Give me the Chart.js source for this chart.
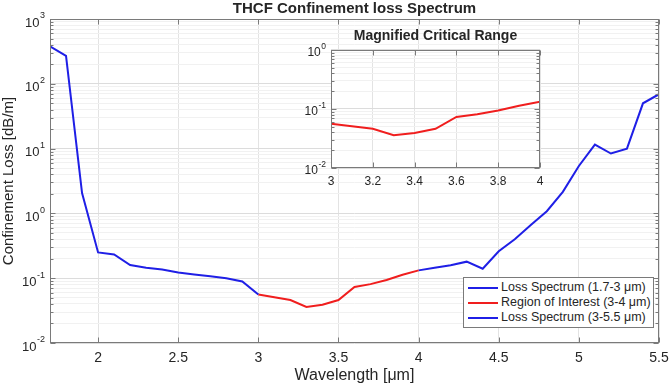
<!DOCTYPE html>
<html lang="en">
<head>
  <meta charset="UTF-8">
  <title>THCF Confinement loss Spectrum</title>
  <style>
    body { margin: 0; background: #fff; font-family: 'Liberation Sans', Arial, sans-serif; }
    #wrap { position: relative; width: 669px; height: 385px; }
    #mainChart { position: absolute; left: 0; top: 0; }
    #insetChart { position: absolute; left: 280px; top: 25px; }
    #legend { position: absolute; left: 463px; top: 277px; width: 189px; height: 49px;
              border: 1px solid #7a7a7a; background: #fff; font-size: 12.5px; color: #262626; }
    #legend .row { position: absolute; left: 0; height: 15px; line-height: 15px; white-space: nowrap; }
    #legend .sw { position: absolute; left: 4px; top: 7px; width: 30px; height: 2px; }
    #legend .tx { position: absolute; left: 37px; top: 0; }
  </style>
  <script src="https://cdn.jsdelivr.net/npm/chart.js"></script>
</head>
<body>
<div id="wrap">
  <canvas id="mainChart" width="669" height="385"></canvas>
  <canvas id="insetChart" width="270" height="165"></canvas>
  <div id="legend"></div>
</div>

<script>
// wavelength grid (um), 0.1 steps
const wavelength = [1.7, 1.8, 1.9, 2.0, 2.1, 2.2, 2.3, 2.4, 2.5, 2.6, 2.7, 2.8, 2.9, 3.0,
                    3.1, 3.2, 3.3, 3.4, 3.5, 3.6, 3.7, 3.8, 3.9, 4.0,
                    4.1, 4.2, 4.3, 4.4, 4.5, 4.6, 4.7, 4.8, 4.9, 5.0, 5.1, 5.2, 5.3, 5.4, 5.5];
// loss values (dB/m)
const lossLow  = [378, 270, 2.06, 0.25, 0.232, 0.16, 0.145, 0.136, 0.122, 0.114, 0.107, 0.1, 0.089, 0.056];
const lossROI  = [0.056, 0.051, 0.046, 0.036, 0.039, 0.046, 0.073, 0.081, 0.094, 0.113, 0.132];
const lossHigh = [0.132, 0.145, 0.158, 0.18, 0.14, 0.26, 0.4, 0.66, 1.08, 2.15, 5.4, 11.5, 8.4, 10, 50, 69];

const seriesLabels = ['Loss Spectrum (1.7-3 μm)', 'Region of Interest (3-4 μm)', 'Loss Spectrum (3-5.5 μm)'];
const seriesColors = ['#1f1fe6', '#f01e1e', '#1f1fe6'];

const mainXTicks = [2, 2.5, 3, 3.5, 4, 4.5, 5, 5.5];
const mainYDecades = [0.01, 0.1, 1, 10, 100, 1000];
const insetXTicks = [3, 3.2, 3.4, 3.6, 3.8, 4];
const insetYDecades = [0.01, 0.1, 1];
const minorSteps = [2, 3, 4, 5, 6, 7, 8, 9];

const FONT = "'Liberation Sans', Arial, sans-serif";
const TXT = '#262626';

function pts(xs, ys, from) {
  return ys.map((v, i) => ({ x: xs[from + i], y: v }));
}
const iStart = wavelength.indexOf(3.0);
const iROI = wavelength.indexOf(4.0);

function logTicks(decades) {
  const t = [];
  decades.forEach((d, k) => {
    t.push({ value: d, major: true });
    if (k < decades.length - 1) minorSteps.forEach(m => t.push({ value: +(d * m).toPrecision(3), major: false }));
  });
  return t;
}
function isDecade(v) { return Math.abs(Math.log10(v) - Math.round(Math.log10(v))) < 1e-9; }

// white plot area, box, inward ticks and 10^n labels (MATLAB look)
const boxPlugin = {
  id: 'box',
  beforeDraw(chart, args, opts) {
    if (!opts.fill) return;
    const a = chart.chartArea, c = chart.ctx;
    c.save(); c.fillStyle = '#fff'; c.fillRect(a.left, a.top, a.right - a.left, a.bottom - a.top); c.restore();
  },
  afterDraw(chart, args, opts) {
    const a = chart.chartArea, c = chart.ctx;
    const xs = chart.scales.x, ys = chart.scales.y;
    c.save();
    c.strokeStyle = '#7a7a7a'; c.lineWidth = 1;
    const L = Math.round(a.left) + 0.5, R = Math.round(a.right) - 0.5;
    const T = Math.round(a.top) + 0.5, B = Math.round(a.bottom) - 0.5;
    c.strokeRect(L, T, R - L, B - T);
    c.beginPath();
    xs.ticks.forEach(t => {
      const px = Math.round(xs.getPixelForValue(t.value)) + 0.5;
      c.moveTo(px, B); c.lineTo(px, B - 5);
      c.moveTo(px, T); c.lineTo(px, T + 5);
    });
    ys.ticks.forEach(t => {
      const py = Math.round(ys.getPixelForValue(t.value)) + 0.5;
      const len = isDecade(t.value) ? 5 : 3;
      c.moveTo(L, py); c.lineTo(L + len, py);
      c.moveTo(R, py); c.lineTo(R - len, py);
    });
    c.stroke();
    // y labels as 10 with raised exponent
    c.fillStyle = TXT; c.textBaseline = 'middle';
    ys.ticks.filter(t => isDecade(t.value)).forEach(t => {
      const py = ys.getPixelForValue(t.value);
      const ex = String(Math.round(Math.log10(t.value)));
      c.font = opts.expSize + 'px ' + FONT;
      const ew = c.measureText(ex).width;
      c.textAlign = 'left';
      c.fillText(ex, a.left - opts.gap - ew, py - opts.raise);
      c.font = opts.size + 'px ' + FONT;
      c.textAlign = 'right';
      c.fillText('10', a.left - opts.gap - ew - 0.5, py + opts.drop);
    });
    c.restore();
  }
};

function lineDs(label, data, color) {
  return { label, data, borderColor: color, backgroundColor: color, borderWidth: 2, pointRadius: 0, tension: 0, fill: false };
}
const plainNum = v => String(Number(v.toFixed(3)));
const noSidePad = s => { s.paddingLeft = 0; s.paddingRight = 0; };

new Chart(document.getElementById('mainChart'), {
  type: 'line',
  data: {
    datasets: [
      lineDs(seriesLabels[0], pts(wavelength, lossLow, 0), seriesColors[0]),
      lineDs(seriesLabels[1], pts(wavelength, lossROI, iStart), seriesColors[1]),
      lineDs(seriesLabels[2], pts(wavelength, lossHigh, iROI), seriesColors[2])
    ]
  },
  plugins: [boxPlugin],
  options: {
    responsive: false, animation: false, events: [],
    layout: { padding: { left: 0, right: 10, top: 0, bottom: 0 } },
    plugins: {
      legend: { display: false }, tooltip: { enabled: false },
      box: { fill: false, size: 13, expSize: 9, gap: 5, raise: 3, drop: 4 },
      title: { display: true, text: 'THCF Confinement loss Spectrum', fullSize: false, color: TXT,
               font: { family: FONT, size: 15, weight: 'bold' }, padding: { top: 0, bottom: 1 } }
    },
    scales: {
      x: {
        type: 'linear', min: 1.7, max: 5.5,
        afterBuildTicks: s => { s.ticks = mainXTicks.map(v => ({ value: v })); },
        afterFit: s => { s.height = 42; noSidePad(s); },
        grid: { color: '#e3e3e3', drawTicks: false },
        border: { display: false },
        ticks: { color: TXT, font: { family: FONT, size: 14 }, padding: 7, maxRotation: 0, autoSkip: false, callback: plainNum },
        title: { display: true, text: 'Wavelength [μm]', color: TXT, font: { family: FONT, size: 16 }, padding: { top: 1, bottom: 0 } }
      },
      y: {
        type: 'logarithmic', min: 0.01, max: 1000,
        afterBuildTicks: s => { s.ticks = logTicks(mainYDecades); },
        afterFit: s => { s.width = 50; s.paddingTop = 0; s.paddingBottom = 0; },
        grid: { color: c => (c.tick && isDecade(c.tick.value)) ? '#dcdcdc' : '#f1f1f1', drawTicks: false },
        border: { display: false },
        ticks: { display: true, color: 'rgba(0,0,0,0)', font: { family: FONT, size: 13 }, autoSkip: false, callback: () => '' },
        title: { display: true, text: 'Confinement Loss [dB/m]', color: TXT, font: { family: FONT, size: 15 }, padding: { top: 0, bottom: 2 } }
      }
    }
  }
});

new Chart(document.getElementById('insetChart'), {
  type: 'line',
  data: { datasets: [lineDs(seriesLabels[1], pts(wavelength, lossROI, iStart), seriesColors[1])] },
  plugins: [boxPlugin],
  options: {
    responsive: false, animation: false, events: [],
    layout: { padding: { left: 0, right: 10, top: 0, bottom: 0 } },
    plugins: {
      legend: { display: false }, tooltip: { enabled: false },
      box: { fill: true, size: 12, expSize: 8.5, gap: 5, raise: 3, drop: 3 },
      title: { display: true, text: 'Magnified Critical Range', fullSize: false, color: TXT,
               font: { family: FONT, size: 14, weight: 'bold' }, padding: { top: 3, bottom: 5 } }
    },
    scales: {
      x: {
        type: 'linear', min: 3, max: 4,
        afterBuildTicks: s => { s.ticks = insetXTicks.map(v => ({ value: v })); },
        afterFit: s => { s.height = 22; noSidePad(s); },
        grid: { color: '#e3e3e3', drawTicks: false },
        border: { display: false },
        ticks: { color: TXT, font: { family: FONT, size: 12 }, padding: 6, maxRotation: 0, autoSkip: false, callback: plainNum }
      },
      y: {
        type: 'logarithmic', min: 0.01, max: 1,
        afterBuildTicks: s => { s.ticks = logTicks(insetYDecades); },
        afterFit: s => { s.width = 51; },
        grid: { color: c => (c.tick && isDecade(c.tick.value)) ? '#dcdcdc' : '#f1f1f1', drawTicks: false },
        border: { display: false },
        ticks: { display: true, color: 'rgba(0,0,0,0)', autoSkip: false, callback: () => '' }
      }
    }
  }
});

// legend box (HTML, bottom right of main axes)
const legendEl = document.getElementById('legend');
seriesLabels.forEach((lab, i) => {
  const row = document.createElement('div');
  row.className = 'row';
  row.style.top = (2 + i * 15) + 'px';
  row.innerHTML = '<span class="sw" style="background:' + seriesColors[i] + '"></span><span class="tx">' + lab + '</span>';
  legendEl.appendChild(row);
});
</script>
</body>
</html>
